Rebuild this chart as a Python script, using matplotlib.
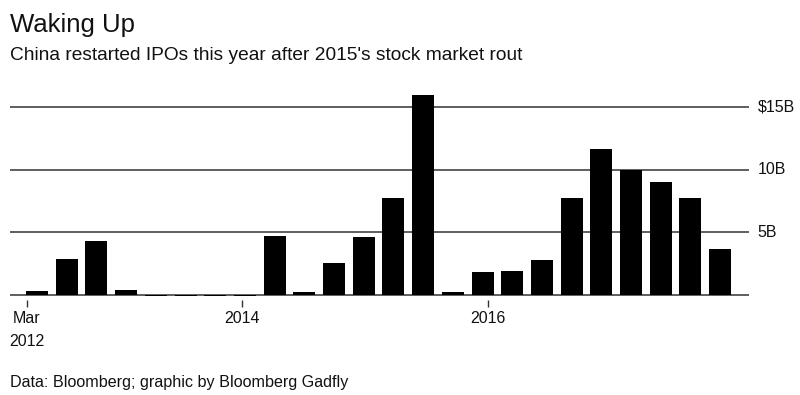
import matplotlib
matplotlib.use('Agg')
import matplotlib.pyplot as plt
import numpy as np

# Quarterly China IPO proceeds, $ billions
quarters = ['2012Q1', '2012Q2', '2012Q3', '2012Q4', '2013Q1', '2013Q2', '2013Q3', '2013Q4',
            '2014Q1', '2014Q2', '2014Q3', '2014Q4', '2015Q1', '2015Q2', '2015Q3', '2015Q4',
            '2016Q1', '2016Q2', '2016Q3', '2016Q4', '2017Q1', '2017Q2', '2017Q3', '2017Q4']
ipo_billions = [0.3, 2.9, 4.3, 0.4, -0.12, -0.12, -0.12, -0.12,
                4.7, 0.25, 2.55, 4.6, 7.7, 15.9, 0.25, 1.85,
                1.95, 2.8, 7.7, 11.6, 10.0, 9.0, 7.7, 3.7]
y_ticks = [5, 10, 15]
y_labels = ['5B', '10B', '$15B']
x_tick_pos = [-0.35, 6.89, 15.18]
x_tick_labels = ['Mar\n2012', '2014', '2016']

plt.rcParams['font.family'] = ['Liberation Sans', 'DejaVu Sans']
ink = '#111111'

fig = plt.figure(figsize=(8, 3.95), dpi=100)
ax = fig.add_axes([0.0125, 0.2405, 0.92375, 0.5337])

x = np.arange(len(quarters))
for yv in [0] + y_ticks:
    ax.axhline(yv, color='#333333', linewidth=1.1, zorder=1)
ax.bar(x, ipo_billions, width=0.74, color='black', zorder=2)

ax.set_xlim(-0.91, 23.97)
ax.set_ylim(-0.4, 16.4)

for s in ax.spines.values():
    s.set_visible(False)

ax.set_yticks([])
for yv, lab in zip(y_ticks, y_labels):
    ax.text(1.012, yv, lab, transform=ax.get_yaxis_transform(), ha='left', va='center',
            fontsize=11.5, color=ink)

ax.set_xticks(x_tick_pos)
ax.set_xticklabels(x_tick_labels, fontsize=11.5, color=ink, linespacing=1.67, va='top')
ax.tick_params(axis='x', length=5, width=1, color='#333333', pad=3)
ax.xaxis.set_ticks_position('bottom')

fig.text(0.0125, 0.92, 'Waking Up', fontsize=18.5, color=ink, ha='left', va='baseline')
fig.text(0.0125, 0.848, "China restarted IPOs this year after 2015's stock market rout",
         fontsize=13.8, color=ink, ha='left', va='baseline')
fig.text(0.0125, 0.0215, 'Data: Bloomberg; graphic by Bloomberg Gadfly',
         fontsize=11.6, color=ink, ha='left', va='baseline')

fig.savefig('out.png', dpi=100)
